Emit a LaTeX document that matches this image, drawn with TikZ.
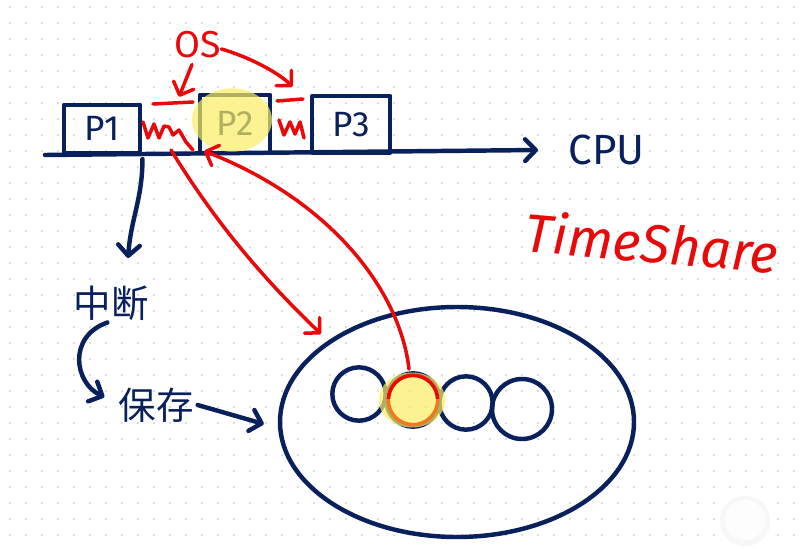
\documentclass[tikz,border=0pt]{standalone}
\usepackage{fontspec}
\setmainfont{Fira Sans}
\newfontfamily\cjkfont{Noto Sans CJK SC}
\usetikzlibrary{positioning}
\usetikzlibrary{calc}
\usetikzlibrary{shapes.geometric}
\usetikzlibrary{arrows.meta}
\definecolor{inknavy}{RGB}{8,32,92}
\definecolor{inkred}{RGB}{232,10,10}
\definecolor{inkorange}{RGB}{242,120,30}
\definecolor{marker}{RGB}{250,238,100}
\definecolor{griddot}{RGB}{208,208,220}
\tikzset{
    % Open, pen-like arrow heads
    >={Straight Barb[length=3.2mm, width=6.5mm, round]},
%
    % The two pens of the sketch
    navy pen/.style={draw=inknavy, line width=3.8pt, line cap=round,
        line join=round},
    red pen/.style={draw=inkred, line width=3pt, line cap=round,
        line join=round},
%
    % A process slot sitting on the time line
    process box/.style={navy pen, rectangle, anchor=south west,
        text=inknavy, font=\fontsize{30}{30}\selectfont},
%
    % Translucent highlighter marks
    marker fill/.style={fill=marker, fill opacity=0.7, draw=none, ellipse},
%
    % Handwritten labels
    navy text/.style={text=inknavy, font=\fontsize{36}{36}\selectfont},
    red text/.style={text=inkred, font=\fontsize{32}{32}\selectfont},
    cjk text/.style={text=inknavy, font=\cjkfont\fontsize{32}{32}\selectfont},
%
    % Saved process slots inside memory
    slot/.style={navy pen, circle, minimum size=16mm, inner sep=0}}

\begin{document}
\begin{tikzpicture}[x=0.3mm, y=-0.3mm]
\useasboundingbox (0,0) rectangle (806,549);

% Dotted paper
\foreach \i in {0,...,49}
    \foreach \j in {0,...,33}
        \fill [griddot] (10+16*\i, 7+16*\j) circle (0.9pt);

% Time line with the three processes
\coordinate (time start) at (45,155);
\coordinate (time end) at (538,150);
\draw [navy pen, ->] (time start) -- (time end);
\node [navy text, right=8mm of time end] (cpu) {CPU};

\node [process box, minimum width=22.8mm, minimum height=14.4mm]
    (p1) at (62,155) {P1};
\node [process box, minimum width=21mm, minimum height=17.4mm]
    (p2) at (198,155) {P2};
\node [process box, minimum width=23.4mm, minimum height=17mm]
    (p3) at (310,155) {P3};
\node [marker fill, minimum width=24mm, minimum height=19mm]
    (p2 mark) at (232,120) {};

% OS switching between the processes
\node [red text] (os) at (198,45) {OS};
\draw [red pen] (153,104) -- coordinate [pos=0.6] (switch one) (193,102);
\draw [red pen] (277,101) -- coordinate [pos=0.6] (switch two) (303,99);
\draw [red pen] (143,122) -- (148,138) -- (154,124) -- (159,138)
    -- (164,126) -- (169,127) -- (173,135) -- (179,130) -- (186,142)
    -- (193,150);
\draw [red pen] (279,120) -- (284,135) -- (290,122) -- (295,134)
    -- (300,122) -- (304,138);
\draw [red pen, ->] ($(os.south)+(-6,2)$) -- ($(switch one)+(2,-6)$);
\draw [red pen, ->] ($(os.east)+(-4,4)$)
    .. controls +(28,8) and +(-14,-14) .. ($(switch two)+(0,-13)$);

% Interrupt, save, and the memory with its saved slots
\node [cjk text] (interrupt) at (111,303) {中断};
\node [cjk text] (save) at (156,405) {保存};
\node [navy pen, ellipse, minimum width=106.2mm, minimum height=69mm]
    (memory) at (457,422) {};

\node [slot] (slot one) at (359,394) {};
\node [slot] (slot two) at (413,400) {};
\node [slot] (slot three) at (466,403) {};
\node [slot, minimum size=18mm] (slot four) at (522,409) {};
\node [marker fill, minimum width=20mm, minimum height=16.5mm]
    (slot mark) at (412,400) {};
\draw [draw=inkorange, line width=3pt] (slot two) circle (7.4mm);
\begin{scope}
    \clip ($(slot two.west)+(-6,-2)$) rectangle ($(slot two.north east)+(6,-6)$);
    \draw [red pen] (slot two) circle (7.4mm);
\end{scope}

\coordinate (drop) at (128,258);
\draw [navy pen, ->] ($(p1.south east)+(0,4)$)
    .. controls +(0,40) and +(3,-40) .. (drop);
\draw [navy pen, ->] ($(interrupt.south west)+(38,-2)$)
    .. controls +(-40,14) and +(-30,-14) .. ($(save.west)+(-10,-8)$);
\draw [navy pen, ->] (save.east) -- ($(memory.west)+(-14,2)$);

% Context moving between CPU and memory
\coordinate (leave) at (171,150);
\coordinate (arrive) at (321,334);
\draw [red pen, ->] (leave) .. controls (220,230) and (270,285) .. (arrive);
\draw [red pen, ->] ($(slot two.north)+(-4,-2)$)
    .. controls (400,290) and (330,200) .. ($(p2.south west)+(6,-4)$);

\node [red text, font=\itshape\fontsize{46}{46}\selectfont, rotate=-5]
    (timeshare) at (652,242) {TimeShare};

% Floating button in the corner
\fill [black!3] (745,521) circle (7.6mm);
\fill [white, fill opacity=0.85] (745,520) circle (6mm);

\end{tikzpicture}
\end{document}
